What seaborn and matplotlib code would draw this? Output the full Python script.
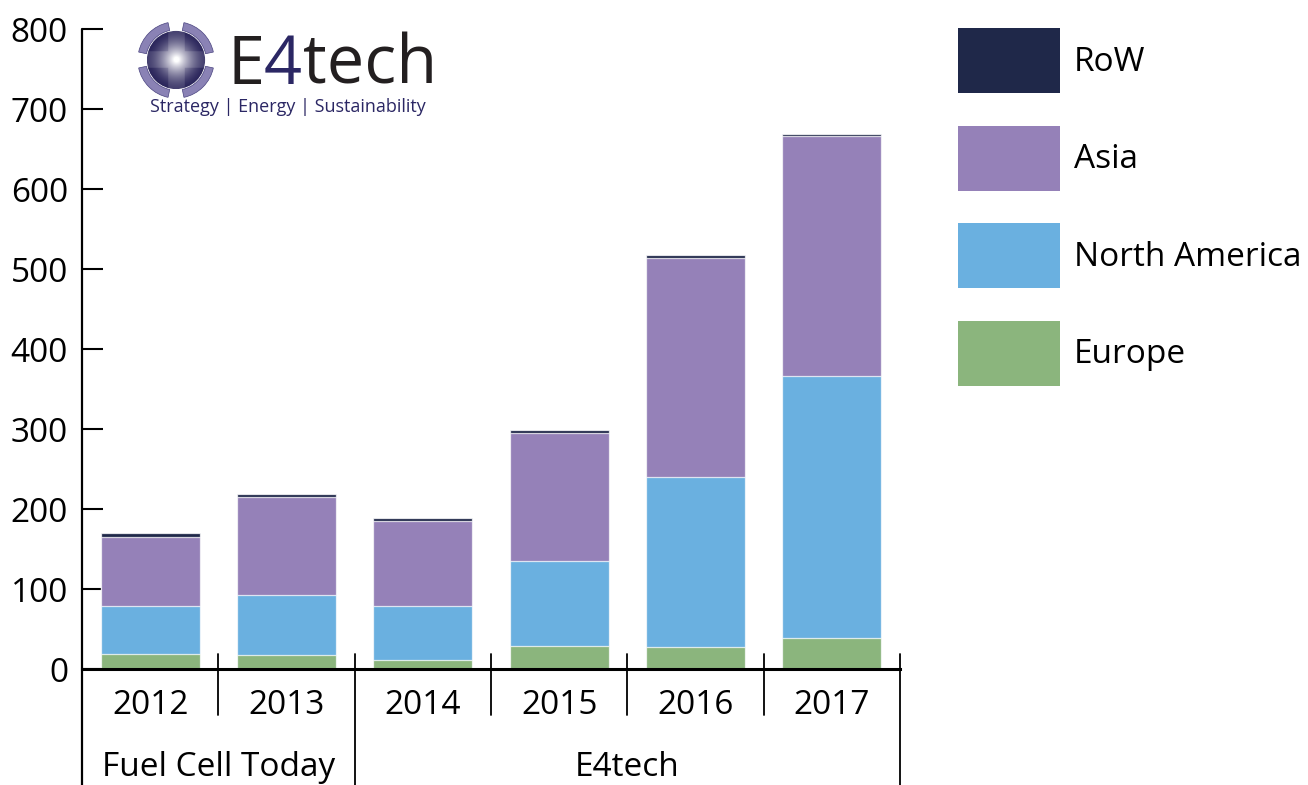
import numpy as np
import matplotlib
matplotlib.use("Agg")
import matplotlib.pyplot as plt
from matplotlib.patches import Patch, Wedge, Circle
import seaborn as sns

# データ
years = ['2012', '2013', '2014', '2015', '2016', '2017']
sources = ['Fuel Cell Today', 'E4tech']
source_span = [(-0.5, 1.5), (1.5, 5.5)]
regions = ['RoW', 'Asia', 'North America', 'Europe']
europe = [19, 18, 11, 29, 28, 39]
north_america = [60, 74, 68, 106, 212, 327]
asia = [86, 123, 106, 160, 274, 300]
row = [5, 4, 4, 4, 3, 3]
yticks = [0, 100, 200, 300, 400, 500, 600, 700, 800]

colors = {'RoW': '#1f2849', 'Asia': '#9581b8', 'North America': '#6ab0e0', 'Europe': '#8bb57d'}

sns.set_theme(style='white')
plt.rcParams['font.family'] = ['Open Sans', 'DejaVu Sans']

fig = plt.figure(figsize=(13.08, 7.85), dpi=100)
W, H = 1308, 785
ax = fig.add_axes([82 / W, 1 - 669 / H, (900 - 82) / W, 640 / H])

# 積み上げ（上から重ねる）
c1 = np.array(europe)
c2 = c1 + np.array(north_america)
c3 = c2 + np.array(asia)
c4 = c3 + np.array(row)
for vals, name in [(c4, 'RoW'), (c3, 'Asia'), (c2, 'North America'), (c1, 'Europe')]:
    sns.barplot(x=years, y=vals, color=colors[name], saturation=1, width=0.727,
                edgecolor=(1, 1, 1, 0.75), linewidth=0.9, ax=ax, zorder=2)

ax.set_xlim(-0.5, 5.5)
ax.set_ylim(0, 800)
ax.set_yticks(yticks)
ax.set_yticklabels([str(v) for v in yticks])
ax.tick_params(axis='y', direction='in', length=15, width=1.5, pad=10,
               labelsize=24, colors='black', left=True)
ax.tick_params(axis='x', length=0, labelbottom=False)
ax.set_xlabel('')
ax.set_ylabel('')
for s in ['top', 'right']:
    ax.spines[s].set_visible(False)
ax.spines['bottom'].set_linewidth(2.2)
ax.spines['bottom'].set_color('black')
ax.spines['bottom'].set_zorder(3)
ax.spines['left'].set_visible(False)

trans = ax.get_xaxis_transform()
# 左の軸線（下まで延長）
ax.plot([-0.5, -0.5], [1, -0.2], transform=trans, color='black', lw=1.6,
        clip_on=False, zorder=4)
# 区切り線
for xpos in [0.5, 1.5, 2.5, 3.5, 4.5, 5.5]:
    long_line = xpos in (1.5, 5.5)
    ax.plot([xpos, xpos], [0.023, -0.2 if long_line else -0.072], transform=trans,
            color='black', lw=1.3, clip_on=False, zorder=4)

for i, y in enumerate(years):
    ax.text(i, -0.057, y, transform=trans, ha='center', va='center',
            fontsize=24, color='black')
for name, (a, b) in zip(sources, source_span):
    ax.text((a + b) / 2, -0.154, name, transform=trans, ha='center', va='center',
            fontsize=24, color='black')

# 凡例
handles = [Patch(facecolor=colors[r], edgecolor='none') for r in regions]
fig.legend(handles, regions, loc='upper left', bbox_to_anchor=(958 / W, 1 - 28 / H),
           frameon=False, fontsize=24, labelcolor='black', borderpad=0, borderaxespad=0,
           handlelength=3.07, handleheight=2.62, labelspacing=0.98, handletextpad=0.4)

# ロゴ
lax = fig.add_axes([136 / W, 1 - 100 / H, 80 / W, 80 / H])
lax.set_xlim(-1.1, 1.1)
lax.set_ylim(-1.1, 1.1)
lax.set_aspect('equal')
lax.axis('off')
g = np.linspace(-1, 1, 200)
gx, gy = np.meshgrid(g, g)
r = np.sqrt(gx ** 2 + gy ** 2)
band = ((np.abs(gx) < 0.28) | (np.abs(gy) < 0.28)).astype(float)
dark = np.array([0.17, 0.15, 0.36])
light = np.array([1.0, 1.0, 1.0])
t = np.clip(1 - r, 0, 1) ** 1.6
t = np.clip(t + 0.12 * band, 0, 1)
img = dark[None, None, :] * (1 - t[..., None]) + light[None, None, :] * t[..., None]
im = lax.imshow(img, extent=(-0.8, 0.8, -0.8, 0.8), origin='lower')
im.set_clip_path(Circle((0, 0), 0.8, transform=lax.transData))
for th in [0, 90, 180, 270]:
    lax.add_patch(Wedge((0, 0), 1.05, th + 12, th + 78, width=0.22,
                        facecolor='#8a82b5', edgecolor='#4a4480', lw=0.5))

fig.text(228 / W, 1 - 84 / H, 'E', fontsize=48, color='#231f20', ha='left', va='baseline')
fig.text(264 / W, 1 - 84 / H, '4', fontsize=48, color='#2b2764', ha='left', va='baseline')
fig.text(303 / W, 1 - 84 / H, 'tech', fontsize=48, color='#231f20', ha='left', va='baseline')
fig.text(288 / W, 1 - 107 / H, 'Strategy | Energy | Sustainability',
         fontsize=13, color='#2b2764', ha='center', va='center', fontweight='medium')

fig.savefig('out.png', dpi=100)
